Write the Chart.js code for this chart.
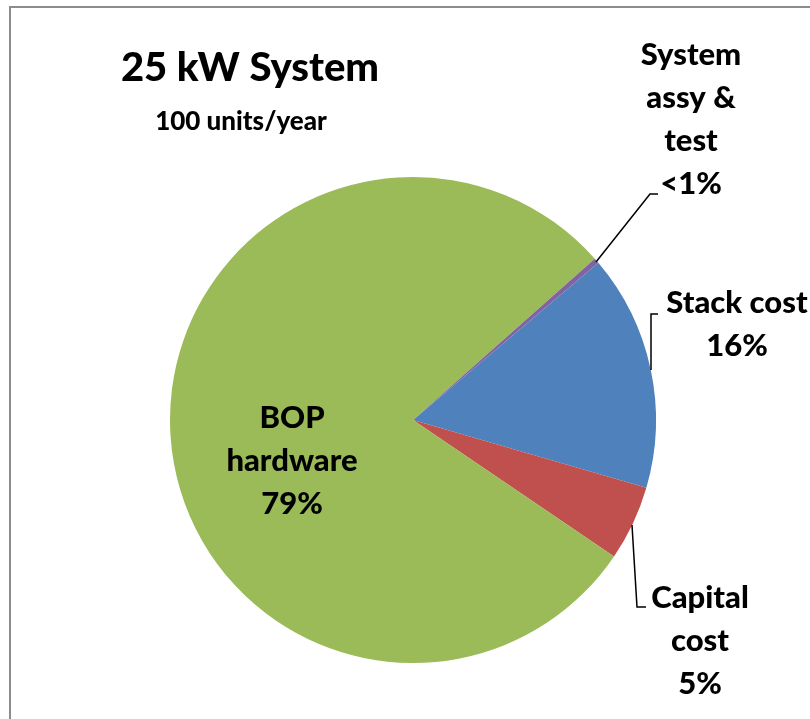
<!DOCTYPE html>
<html>
<head>
<meta charset="utf-8">
<script src="https://cdn.jsdelivr.net/npm/chart.js@4"></script>
<style>
  html, body { margin: 0; padding: 0; background: #fff; }
  #wrap { width: 810px; height: 719px; position: relative; }
</style>
</head>
<body>
<div id="wrap"><canvas id="pie-chart"></canvas></div>
<script>
// slice data, clockwise from the stack cost slice
const categories = ['Stack cost', 'Capital cost', 'BOP hardware', 'System assy & test'];
const shares = [15.7, 5.0, 79.0, 0.36];
const shareLabels = ['16%', '5%', '79%', '<1%'];
const sliceColors = ['#4F81BD', '#C0504D', '#9BBB59', '#8064A2'];

const titleText = '25 kW System';
const subtitleText = '100 units/year';

const FONT = 'Lato, "Noto Sans", sans-serif';

// label lines and where they sit (x center, first baseline)
const labelSpots = [
    { lines: ['Stack cost', '16%'], x: 737, y: 313 },
    { lines: ['Capital', 'cost', '5%'], x: 700, y: 608 },
    { lines: ['BOP', 'hardware', '79%'], x: 292, y: 428 },
    { lines: ['System', 'assy &', 'test', '<1%'], x: 691, y: 65 }
];

// leader lines, from the slice edge out to the label
const leaders = [
    [[651, 370], [651, 314], [658, 314]],
    [[632, 525], [637, 607], [646, 607]],
    null,
    [[596, 262], [650, 194], [658, 194]]
];

const decorPlugin = {
    id: 'decor',
    beforeDraw(chart) {
        const ctx = chart.ctx;
        ctx.save();
        ctx.strokeStyle = '#8c8c8c';
        ctx.lineWidth = 2;
        ctx.beginPath();
        ctx.moveTo(10, 719);
        ctx.lineTo(10, 7);
        ctx.lineTo(810, 7);
        ctx.stroke();
        ctx.restore();
    },
    afterDraw(chart) {
        const ctx = chart.ctx;
        ctx.save();
        ctx.fillStyle = '#000';
        ctx.textAlign = 'center';
        ctx.textBaseline = 'alphabetic';

        ctx.font = '900 40px ' + FONT;
        ctx.fillText(titleText, 250, 81);
        ctx.font = '900 26px ' + FONT;
        ctx.fillText(subtitleText, 241, 130);

        ctx.font = '900 31px ' + FONT;
        labelSpots.forEach(spot => {
            spot.lines.forEach((line, i) => {
                ctx.fillText(line, spot.x, spot.y + i * 43);
            });
        });

        ctx.strokeStyle = '#000';
        ctx.lineWidth = 1.5;
        leaders.forEach(pts => {
            if (!pts) return;
            ctx.beginPath();
            ctx.moveTo(pts[0][0], pts[0][1]);
            for (let i = 1; i < pts.length; i++) ctx.lineTo(pts[i][0], pts[i][1]);
            ctx.stroke();
        });
        ctx.restore();
    }
};

const ctx = document.getElementById('pie-chart').getContext('2d');
new Chart(ctx, {
    type: 'pie',
    data: {
        labels: categories,
        datasets: [{
            data: shares,
            backgroundColor: sliceColors,
            borderWidth: 0
        }]
    },
    options: {
        responsive: true,
        maintainAspectRatio: false,
        animation: false,
        rotation: 49.7,
        layout: {
            padding: { left: 170, right: 154, top: 177, bottom: 56 }
        },
        plugins: {
            legend: { display: false },
            tooltip: { enabled: false }
        }
    },
    plugins: [decorPlugin]
});
</script>
</body>
</html>
